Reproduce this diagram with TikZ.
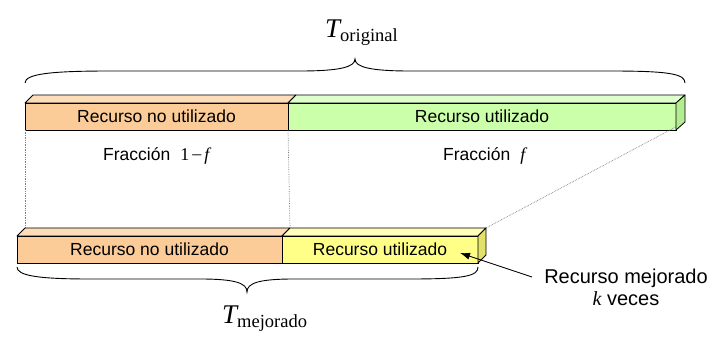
\documentclass[tikz,border=0pt]{standalone}
\usepackage{fontspec}
\setmainfont{Liberation Sans}
\newfontfamily\serif{Liberation Serif}
\usetikzlibrary{calc,arrows.meta}
\definecolor{orF}{HTML}{FBCB98}
\definecolor{orT}{HTML}{FDDCB8}
\definecolor{grF}{HTML}{CCFFAA}
\definecolor{grT}{HTML}{DEFFCC}
\definecolor{grS}{HTML}{B4EC92}
\definecolor{yeF}{HTML}{FFFF88}
\definecolor{yeT}{HTML}{FFFFBB}
\definecolor{yeS}{HTML}{E2E26A}
\tikzset{
  barpart/.style={draw=black, line width=0.8pt, inner sep=0pt, outer sep=0pt,
    minimum height=27pt, anchor=north west,
    font=\fontsize{17.5}{20}\selectfont},
  face/.style={draw=black, line width=0.8pt, line join=round},
  guide/.style={densely dotted, draw=gray, line width=0.7pt},
  brace/.style={draw=black, line width=0.9pt},
  lbl/.style={inner sep=0pt, font=\fontsize{17.5}{20}\selectfont},
}
\newcommand{\bigT}[1]{{\serif\fontsize{27}{30}\selectfont\itshape T}\raisebox{-4pt}{\serif\fontsize{18.5}{20}\selectfont #1}}
\begin{document}
\begin{tikzpicture}[x=1pt,y=-1pt]
\useasboundingbox (0,0) rectangle (722,347);
% top bar
\node[barpart, fill=orF, minimum width=263pt] (o1) at (25,103) {Recurso no utilizado};
\node[barpart, fill=grF, minimum width=388pt] (g1) at (o1.north east) {Recurso utilizado};
% bottom bar
\node[barpart, fill=orF, minimum width=265pt] (o2) at (17,236) {Recurso no utilizado};
\node[barpart, fill=yeF, minimum width=196pt] (y2) at (o2.north east) {Recurso utilizado};
% guides
\draw[guide] (o1.south west) -- ($(o2.north west)+(8,-8)$);
\draw[guide] (o1.south east) -- ($(y2.north west)+(8,-8)$);
\draw[guide] ($(g1.south east)+(9,-8)$) -- ($(y2.north east)+(8,-8)$);
% faces top bar
\draw[face, fill=orT] (o1.north west) -- ++(8,-8) -- ($(o1.north east)+(8,-8)$) -- (o1.north east) -- cycle;
\draw[face, fill=grT] (g1.north west) -- ++(8,-8) -- ($(g1.north east)+(9,-8)$) -- (g1.north east) -- cycle;
\draw[face, fill=grS] (g1.north east) -- ++(9,-8) -- ++(0,27) -- (g1.south east) -- cycle;
% faces bottom bar
\draw[face, fill=orT] (o2.north west) -- ++(8,-8) -- ($(o2.north east)+(8,-8)$) -- (o2.north east) -- cycle;
\draw[face, fill=yeT] (y2.north west) -- ++(8,-8) -- ($(y2.north east)+(8,-8)$) -- (y2.north east) -- cycle;
\draw[face, fill=yeS] (y2.north east) -- ++(8,-8) -- ++(0,27) -- (y2.south east) -- cycle;
% braces
\draw[brace] (25,83) .. controls (25,74) and (50,71) .. (110,71) -- (300,71)
  .. controls (340,71) and (355,67) .. (355,59)
  .. controls (355,67) and (370,71) .. (410,71) -- (610,71)
  .. controls (670,71) and (685,74) .. (685,83);
\draw[brace] (17,267) .. controls (17,276) and (40,279) .. (90,279) -- (200,279)
  .. controls (235,279) and (247,283) .. (247,292)
  .. controls (247,283) and (259,279) .. (294,279) -- (410,279)
  .. controls (465,279) and (478,276) .. (478,267);
% labels
\node[lbl, anchor=base west] (tor) at (325,38) {\bigT{original}};
\node[lbl, anchor=base west] (tme) at (222,323) {\bigT{mejorado}};
\node[lbl, anchor=base west] (f1) at (103,161) {Fracción\hspace{10pt}{\serif\fontsize{18}{20}\selectfont 1\hspace{3pt}\raisebox{1pt}{–}\hspace{3pt}\itshape f}};
\node[lbl, anchor=base west] (f2) at (443,161) {Fracción\hspace{10pt}{\serif\fontsize{18}{20}\selectfont\itshape f}};
\node[lbl, anchor=base, align=center, font=\fontsize{20}{22}\selectfont] (rm) at (626,305) {Recurso mejorado\\{\serif\itshape k} veces};
% arrow
\coordinate (mtail) at (532,277);
\coordinate (mtip) at (460,253);
\draw[line width=0.9pt, -{Latex[length=10pt,width=7pt]}] (mtail) -- (mtip);
\end{tikzpicture}
\end{document}
